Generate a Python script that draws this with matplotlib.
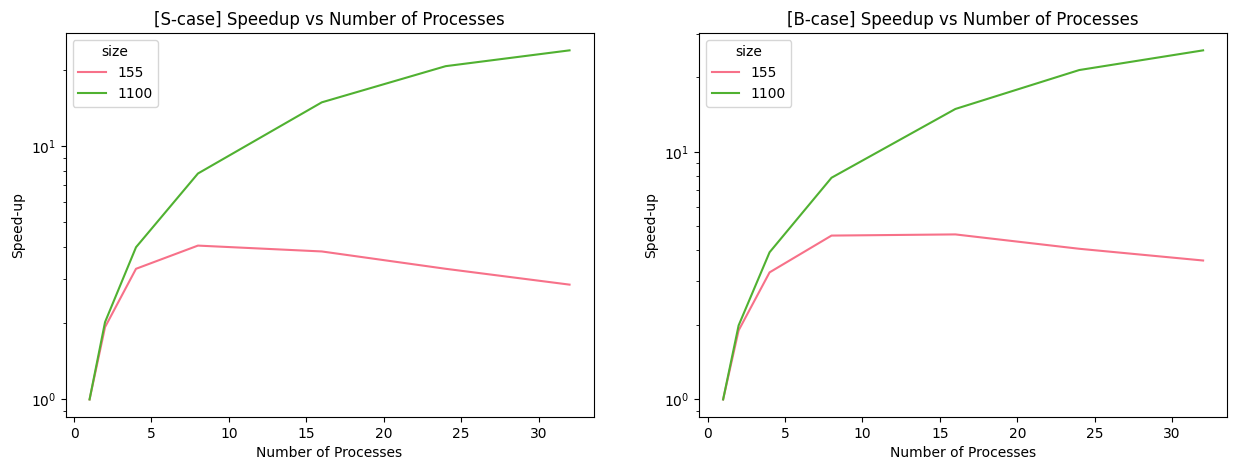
import matplotlib
matplotlib.use('Agg')
import matplotlib.pyplot as plt

# numero de procesos
procesos = [1, 2, 4, 8, 16, 24, 32]
tamanos = ['155', '1100']

# speed-up caso S
s_155 = [1.0, 1.93, 3.28, 4.05, 3.84, 3.28, 2.84]
s_1100 = [1.0, 2.02, 3.99, 7.80, 14.9, 20.7, 23.9]

# speed-up caso B
b_155 = [1.0, 1.90, 3.26, 4.59, 4.64, 4.06, 3.64]
b_1100 = [1.0, 1.99, 3.93, 7.86, 14.9, 21.4, 25.7]

colores = ['#f77189', '#50b131']

fig, (ax1, ax2) = plt.subplots(1, 2, figsize=(12.37, 4.70), dpi=100)
fig.subplots_adjust(left=0.053, right=0.992, top=0.930, bottom=0.113, wspace=0.2)

def grafica(ax, series, titulo):
    for datos, tam, c in zip(series, tamanos, colores):
        ax.plot(procesos, datos, color=c, linewidth=1.5, label=tam)
    ax.set_yscale('log')
    ax.set_title(titulo)
    ax.set_xlabel('Number of Processes')
    ax.set_ylabel('Speed-up')
    ax.legend(title='size', loc='upper left')

grafica(ax1, [s_155, s_1100], '[S-case] Speedup vs Number of Processes')
grafica(ax2, [b_155, b_1100], '[B-case] Speedup vs Number of Processes')

fig.savefig('out.png', dpi=100)
